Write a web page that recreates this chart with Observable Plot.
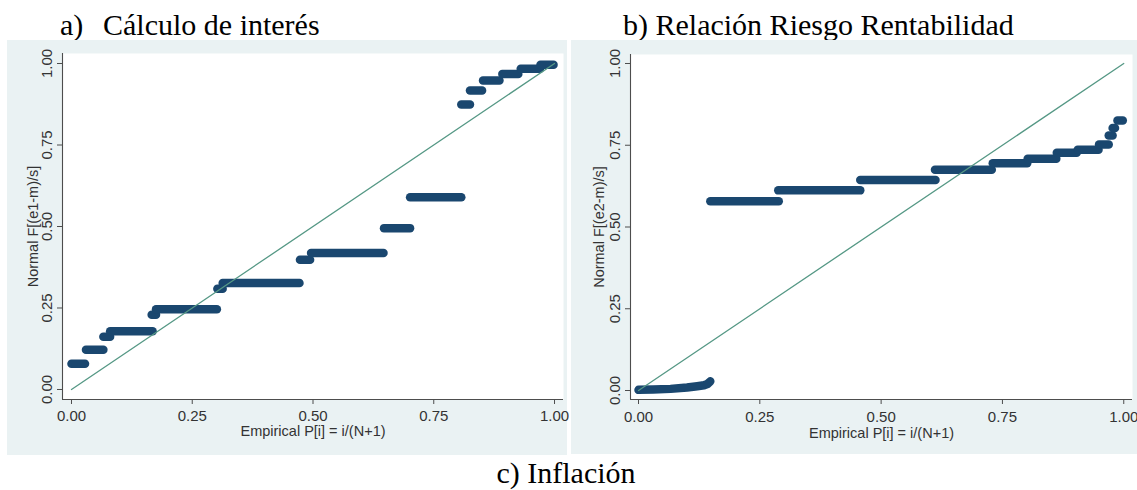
<!DOCTYPE html>
<html>
<head>
<meta charset="utf-8">
<script src="https://cdn.jsdelivr.net/npm/d3@7"></script>
<script src="https://cdn.jsdelivr.net/npm/@observablehq/plot@0.6"></script>
<style>
  html, body { margin: 0; padding: 0; background: #ffffff; }
  body { width: 1137px; height: 490px; position: relative; overflow: hidden; }
  .ttl { position: absolute; font-family: "Liberation Serif", "Times New Roman", serif; font-size: 30px; line-height: 30px; color: #000; white-space: pre; }
  .panel { position: absolute; }
</style>
</head>
<body>
<div class="ttl" style="left:60px; top:10px;">a)</div>
<div class="ttl" style="left:103px; top:10px;">Cálculo de interés</div>
<div class="ttl" style="left:623px; top:10px;">b) Relación Riesgo Rentabilidad</div>
<div class="ttl" id="tc" style="left:0; width:1132px; text-align:center; top:458px;">c) Inflación</div>
<div class="panel" id="pa" style="left:7px; top:40px;"></div>
<div class="panel" id="pb" style="left:571px; top:40px;"></div>
<script>
// ---------- data ----------
const tickValues = [0, 0.25, 0.5, 0.75, 1];
const refLine = [0, 1];

// Panel a) Cálculo de interés — runs of tied points (normal prob. y, empirical prob. from x0 to x1)
const aRunY  = [0.079, 0.122, 0.162, 0.179, 0.229, 0.246, 0.309, 0.327, 0.398, 0.419, 0.495, 0.590, 0.874, 0.917, 0.948, 0.968, 0.984, 0.996];
const aRunX0 = [0.000, 0.030, 0.066, 0.080, 0.166, 0.175, 0.302, 0.313, 0.473, 0.496, 0.647, 0.701, 0.807, 0.825, 0.852, 0.892, 0.930, 0.971];
const aRunX1 = [0.028, 0.066, 0.080, 0.168, 0.175, 0.301, 0.313, 0.472, 0.494, 0.646, 0.701, 0.807, 0.825, 0.850, 0.886, 0.925, 0.970, 0.998];

// Panel b) Relación Riesgo Rentabilidad — low curved start, then runs of tied points
const bCurveX = [0.000, 0.030, 0.066, 0.100, 0.121, 0.135, 0.142, 0.148];
const bCurveY = [0.002, 0.003, 0.005, 0.009, 0.013, 0.016, 0.020, 0.028];
const bRunY  = [0.579, 0.612, 0.644, 0.675, 0.695, 0.709, 0.727, 0.736, 0.752, 0.780, 0.803, 0.826];
const bRunX0 = [0.148, 0.288, 0.457, 0.611, 0.730, 0.802, 0.862, 0.905, 0.949, 0.969, 0.977, 0.987];
const bRunX1 = [0.289, 0.457, 0.612, 0.728, 0.801, 0.861, 0.903, 0.948, 0.969, 0.977, 0.982, 0.998];

const xTitle = "Empirical P[i] = i/(N+1)";
const aYTitle = "Normal F[(e1-m)/s]";
const bYTitle = "Normal F[(e2-m)/s]";

// ---------- build ----------
const NAVY = "#1a476f";
const REF = "#559885";
const BG = "#eaf2f3";
const AXIS = "#4d4d4d";

function runRows(ys, x0s, x1s, prefix) {
  const rows = [];
  ys.forEach((y, i) => {
    rows.push({id: prefix + i, x: x0s[i], y});
    rows.push({id: prefix + i, x: x1s[i], y});
  });
  return rows;
}

function panel(o) {
  return Plot.plot({
    width: o.width, height: o.height,
    marginLeft: o.ml, marginRight: o.mr, marginTop: o.mt, marginBottom: o.mb,
    x: {domain: o.xd, label: null},
    y: {domain: o.yd, label: null},
    style: {background: BG, color: AXIS, fontFamily: "'Liberation Sans', Arial, sans-serif", fontSize: "15px", overflow: "visible"},
    marks: [
      Plot.frame({fill: "#ffffff", stroke: null}),
      Plot.line(o.rows, {x: "x", y: "y", z: "id", stroke: NAVY, strokeWidth: 8.5, strokeLinecap: "round", strokeLinejoin: "round"}),
      Plot.line(refLine, {x: d => d, y: d => d, stroke: REF, strokeWidth: 1.3}),
      Plot.ruleX([o.xd[0]], {stroke: AXIS, strokeWidth: 1.1}),
      Plot.ruleY([o.yd[0]], {stroke: AXIS, strokeWidth: 1.1}),
      Plot.axisX({ticks: tickValues, tickFormat: d3.format(".2f"), tickSize: 5, tickPadding: o.tpx, fontSize: 15, label: null, stroke: AXIS, fill: "#333"}),
      Plot.axisY({ticks: tickValues, tickFormat: () => "", tickSize: 5, label: null, stroke: AXIS}),
      Plot.text(tickValues, {y: d => d, text: d3.format(".2f"), frameAnchor: "left", dx: -11, rotate: -90, textAnchor: "middle", lineAnchor: "bottom", fontSize: 15, fill: "#333"}),
      Plot.text([xTitle], {text: d => d, frameAnchor: "bottom", dy: o.xtdy, lineAnchor: "bottom", textAnchor: "middle", fontSize: 14.5, fill: "#333"}),
      Plot.text([o.yTitle], {text: d => d, frameAnchor: "left", dx: o.ytdx, rotate: -90, textAnchor: "middle", lineAnchor: "bottom", fontSize: 14.5, fill: "#333"})
    ]
  });
}

const aRows = runRows(aRunY, aRunX0, aRunX1, "a");
const bRows = bCurveX.map((x, i) => ({id: "curve", x, y: bCurveY[i]})).concat(runRows(bRunY, bRunX0, bRunX1, "b"));

document.getElementById("pa").appendChild(panel({
  width: 560, height: 415, ml: 55, mr: 4, mt: 13, mb: 56,
  xd: [-0.0186, 1.0186], yd: [-0.0307, 1.0307],
  rows: aRows, tpx: 6, xtdy: 36, ytdx: -25, yTitle: aYTitle
}));

document.getElementById("pb").appendChild(panel({
  width: 566, height: 414, ml: 59, mr: 5, mt: 14, mb: 55,
  xd: [-0.0165, 1.018], yd: [-0.0275, 1.0275],
  rows: bRows, tpx: 7, xtdy: 38, ytdx: -27, yTitle: bYTitle
}));
</script>
</body>
</html>
